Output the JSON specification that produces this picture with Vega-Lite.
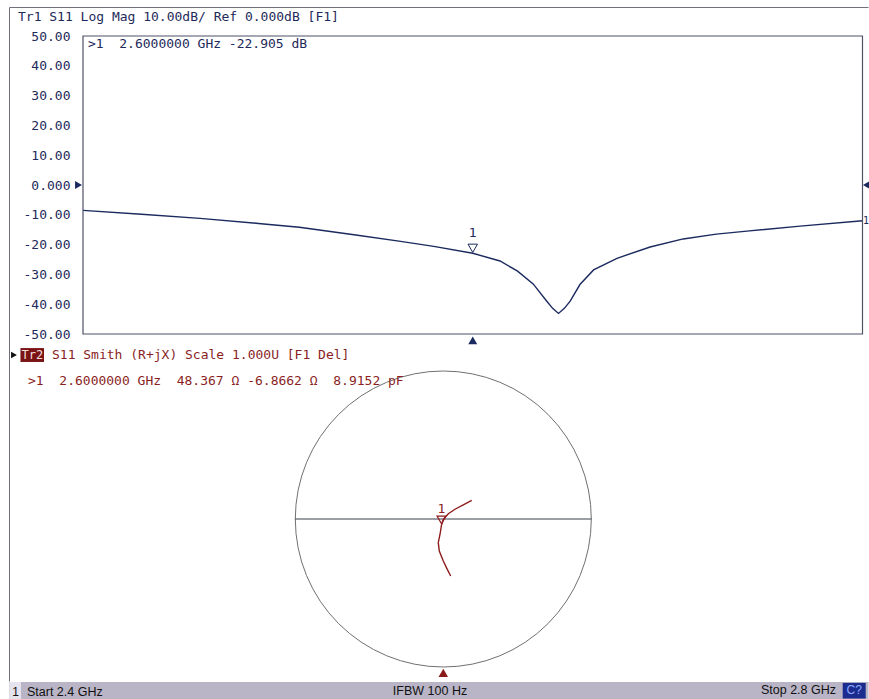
{
  "$schema": "https://vega.github.io/schema/vega-lite/v6.json",
  "padding": {"left": 9, "top": 6, "right": 0, "bottom": 0},
  "autosize": {"type": "pad"},
  "background": "white",
  "spacing": 0,
  "bounds": "flush",
  "config": {
    "view": {"stroke": null},
    "axis": {"grid": false, "domain": false, "ticks": false},
    "axisY": {"labelPadding": 13, "tickSize": 0, "labelFont": "DejaVu Sans Mono", "labelFontSize": 13, "labelColor": "#1e2a5a"}
  },
  "datasets": {
    "sweep": [{"start": 2.4, "stop": 2.8, "top": 50, "bottom": -50, "ref": 0}],
    "trace1": [
      {"f": 2.400, "db": -8.5}, {"f": 2.430, "db": -9.8}, {"f": 2.460, "db": -11.2}, {"f": 2.490, "db": -12.9},
      {"f": 2.511, "db": -14.2}, {"f": 2.540, "db": -16.8}, {"f": 2.563, "db": -18.9}, {"f": 2.580, "db": -20.6},
      {"f": 2.600, "db": -22.905}, {"f": 2.614, "db": -25.5}, {"f": 2.623, "db": -28.9}, {"f": 2.631, "db": -33.2},
      {"f": 2.638, "db": -39.0}, {"f": 2.641, "db": -41.4}, {"f": 2.644, "db": -43.1}, {"f": 2.647, "db": -41.4},
      {"f": 2.650, "db": -39.0}, {"f": 2.655, "db": -33.4}, {"f": 2.662, "db": -28.5}, {"f": 2.674, "db": -24.6},
      {"f": 2.691, "db": -20.8}, {"f": 2.708, "db": -18.1}, {"f": 2.725, "db": -16.5}, {"f": 2.742, "db": -15.4},
      {"f": 2.768, "db": -13.8}, {"f": 2.800, "db": -12.0}
    ],
    "trace2": [
      {"f": 2.40, "gx": 0.050, "gy": -0.385}, {"f": 2.44, "gx": 0.027, "gy": -0.340}, {"f": 2.48, "gx": 0.000, "gy": -0.284},
      {"f": 2.52, "gx": -0.027, "gy": -0.216}, {"f": 2.55, "gx": -0.034, "gy": -0.160}, {"f": 2.58, "gx": -0.022, "gy": -0.103},
      {"f": 2.60, "gx": -0.012, "gy": -0.040}, {"f": 2.645, "gx": 0.000, "gy": -0.002}, {"f": 2.68, "gx": 0.034, "gy": 0.036},
      {"f": 2.71, "gx": 0.079, "gy": 0.066}, {"f": 2.75, "gx": 0.135, "gy": 0.095}, {"f": 2.80, "gx": 0.192, "gy": 0.126}
    ],
    "marker": [{"id": "1", "f": 2.6, "db": -22.905, "gx": -0.012, "gy": -0.040}]
  },
  "vconcat": [
    {
      "width": 779.5,
      "height": 298,
      "layer": [
        {
          "data": {"name": "trace1"},
          "mark": {"type": "line", "color": "#1b2a5e", "strokeWidth": 1.4},
          "encoding": {
            "x": {"field": "f", "type": "quantitative", "scale": {"domain": [2.4, 2.8], "nice": false, "zero": false}, "axis": null},
            "y": {"field": "db", "type": "quantitative", "scale": {"domain": [-50, 50], "nice": false, "zero": false},
              "axis": {"values": [-50, -40, -30, -20, -10, 0, 10, 20, 30, 40, 50], "labelExpr": "datum.value === 0 ? '0.000' : (datum.value < 0 ? '-' : '') + format(abs(datum.value), '.2f')", "title": null}}
          }
        },
        {
          "data": {"name": "sweep"},
          "mark": {"type": "rule", "color": "#70707c", "strokeWidth": 1},
          "encoding": {
            "x": {"datum": 2.362284, "type": "quantitative", "scale": {"domain": [2.4, 2.8], "nice": false, "zero": false}, "axis": null},
            "y": {"datum": 59.564, "type": "quantitative", "scale": {"domain": [-50, 50], "nice": false, "zero": false},
              "axis": {"values": [-50, -40, -30, -20, -10, 0, 10, 20, 30, 40, 50], "labelExpr": "datum.value === 0 ? '0.000' : (datum.value < 0 ? '-' : '') + format(abs(datum.value), '.2f')", "title": null}},
            "y2": {"datum": -50}
          }
        },
        {
          "data": {"name": "sweep"},
          "mark": {"type": "rule", "color": "#70707c", "strokeWidth": 1},
          "encoding": {
            "x": {"datum": 2.362284, "type": "quantitative", "scale": {"domain": [2.4, 2.8], "nice": false, "zero": false}, "axis": null},
            "x2": {"datum": 2.80308},
            "y": {"datum": 59.564, "type": "quantitative", "scale": {"domain": [-50, 50], "nice": false, "zero": false},
              "axis": {"values": [-50, -40, -30, -20, -10, 0, 10, 20, 30, 40, 50], "labelExpr": "datum.value === 0 ? '0.000' : (datum.value < 0 ? '-' : '') + format(abs(datum.value), '.2f')", "title": null}}
          }
        },
        {
          "data": {"name": "sweep"},
          "mark": {"type": "rect", "fill": "transparent", "stroke": "#4d5266", "strokeWidth": 1.2},
          "encoding": {
            "x": {"field": "start", "type": "quantitative", "scale": {"domain": [2.4, 2.8], "nice": false, "zero": false}, "axis": null},
            "x2": {"field": "stop"},
            "y": {"field": "top", "type": "quantitative", "scale": {"domain": [-50, 50], "nice": false, "zero": false},
              "axis": {"values": [-50, -40, -30, -20, -10, 0, 10, 20, 30, 40, 50], "labelExpr": "datum.value === 0 ? '0.000' : (datum.value < 0 ? '-' : '') + format(abs(datum.value), '.2f')", "title": null}},
            "y2": {"field": "bottom"}
          }
        },
        {
          "data": {"name": "marker"},
          "mark": {"type": "point", "shape": "triangle-down", "filled": false, "size": 90, "stroke": "#1b2a5e", "strokeWidth": 1, "yOffset": -5, "opacity": 1},
          "encoding": {
            "x": {"field": "f", "type": "quantitative", "scale": {"domain": [2.4, 2.8], "nice": false, "zero": false}, "axis": null},
            "y": {"field": "db", "type": "quantitative", "scale": {"domain": [-50, 50], "nice": false, "zero": false},
              "axis": {"values": [-50, -40, -30, -20, -10, 0, 10, 20, 30, 40, 50], "labelExpr": "datum.value === 0 ? '0.000' : (datum.value < 0 ? '-' : '') + format(abs(datum.value), '.2f')", "title": null}}
          }
        },
        {
          "data": {"name": "marker"},
          "mark": {"type": "text", "font": "DejaVu Sans Mono", "fontSize": 13, "color": "#1e2a5a", "dy": -20, "baseline": "middle"},
          "encoding": {
            "x": {"field": "f", "type": "quantitative", "scale": {"domain": [2.4, 2.8], "nice": false, "zero": false}, "axis": null},
            "y": {"field": "db", "type": "quantitative", "scale": {"domain": [-50, 50], "nice": false, "zero": false},
              "axis": {"values": [-50, -40, -30, -20, -10, 0, 10, 20, 30, 40, 50], "labelExpr": "datum.value === 0 ? '0.000' : (datum.value < 0 ? '-' : '') + format(abs(datum.value), '.2f')", "title": null}},
            "text": {"field": "id"}
          }
        },
        {
          "data": {"name": "marker"},
          "mark": {"type": "point", "shape": "triangle-up", "filled": true, "size": 80, "color": "#1b2a5e", "opacity": 1},
          "encoding": {
            "x": {"field": "f", "type": "quantitative", "scale": {"domain": [2.4, 2.8], "nice": false, "zero": false}, "axis": null},
            "y": {"datum": -52.18, "type": "quantitative", "scale": {"domain": [-50, 50], "nice": false, "zero": false},
              "axis": {"values": [-50, -40, -30, -20, -10, 0, 10, 20, 30, 40, 50], "labelExpr": "datum.value === 0 ? '0.000' : (datum.value < 0 ? '-' : '') + format(abs(datum.value), '.2f')", "title": null}}
          }
        },
        {
          "data": {"name": "sweep"},
          "mark": {"type": "point", "shape": "triangle-right", "filled": true, "size": 64, "color": "#1b2a5e", "opacity": 1},
          "encoding": {
            "x": {"datum": 2.39769, "type": "quantitative", "scale": {"domain": [2.4, 2.8], "nice": false, "zero": false}, "axis": null},
            "y": {"field": "ref", "type": "quantitative", "scale": {"domain": [-50, 50], "nice": false, "zero": false},
              "axis": {"values": [-50, -40, -30, -20, -10, 0, 10, 20, 30, 40, 50], "labelExpr": "datum.value === 0 ? '0.000' : (datum.value < 0 ? '-' : '') + format(abs(datum.value), '.2f')", "title": null}}
          }
        },
        {
          "data": {"name": "sweep"},
          "mark": {"type": "point", "shape": "triangle-left", "filled": true, "size": 50, "color": "#1b2a5e", "opacity": 1},
          "encoding": {
            "x": {"datum": 2.8018, "type": "quantitative", "scale": {"domain": [2.4, 2.8], "nice": false, "zero": false}, "axis": null},
            "y": {"field": "ref", "type": "quantitative", "scale": {"domain": [-50, 50], "nice": false, "zero": false},
              "axis": {"values": [-50, -40, -30, -20, -10, 0, 10, 20, 30, 40, 50], "labelExpr": "datum.value === 0 ? '0.000' : (datum.value < 0 ? '-' : '') + format(abs(datum.value), '.2f')", "title": null}}
          }
        },
        {
          "data": {"name": "sweep"},
          "mark": {"type": "text", "font": "DejaVu Sans Mono", "fontSize": 10, "color": "#1e2a5a", "align": "left", "baseline": "middle", "dx": 0.5},
          "encoding": {
            "x": {"field": "stop", "type": "quantitative", "scale": {"domain": [2.4, 2.8], "nice": false, "zero": false}, "axis": null},
            "y": {"datum": -12.0, "type": "quantitative", "scale": {"domain": [-50, 50], "nice": false, "zero": false},
              "axis": {"values": [-50, -40, -30, -20, -10, 0, 10, 20, 30, 40, 50], "labelExpr": "datum.value === 0 ? '0.000' : (datum.value < 0 ? '-' : '') + format(abs(datum.value), '.2f')", "title": null}},
            "text": {"value": "1"}
          }
        },
        {
          "data": {"name": "sweep"},
          "mark": {"type": "text", "font": "DejaVu Sans Mono", "fontSize": 13, "color": "#1e2a5a", "align": "left", "baseline": "middle"},
          "encoding": {
            "x": {"datum": 2.40256, "type": "quantitative", "scale": {"domain": [2.4, 2.8], "nice": false, "zero": false}, "axis": null},
            "y": {"datum": 47.148, "type": "quantitative", "scale": {"domain": [-50, 50], "nice": false, "zero": false},
              "axis": {"values": [-50, -40, -30, -20, -10, 0, 10, 20, 30, 40, 50], "labelExpr": "datum.value === 0 ? '0.000' : (datum.value < 0 ? '-' : '') + format(abs(datum.value), '.2f')", "title": null}},
            "text": {"value": ">1\u00a0\u00a02.6000000 GHz -22.905 dB"}
          }
        },
        {
          "data": {"name": "sweep"},
          "mark": {"type": "text", "font": "DejaVu Sans Mono", "fontSize": 13, "color": "#1e2a5a", "align": "left", "baseline": "middle"},
          "encoding": {
            "x": {"datum": 2.36664, "type": "quantitative", "scale": {"domain": [2.4, 2.8], "nice": false, "zero": false}, "axis": null},
            "y": {"datum": 56.376, "type": "quantitative", "scale": {"domain": [-50, 50], "nice": false, "zero": false},
              "axis": {"values": [-50, -40, -30, -20, -10, 0, 10, 20, 30, 40, 50], "labelExpr": "datum.value === 0 ? '0.000' : (datum.value < 0 ? '-' : '') + format(abs(datum.value), '.2f')", "title": null}},
            "text": {"value": "Tr1 S11 Log Mag 10.00dB/ Ref 0.000dB [F1]"}
          }
        }
      ]
    },
    {
      "width": 779.5,
      "height": 347.5,
      "layer": [
        {
          "data": {"name": "sweep"},
          "mark": {"type": "rule", "color": "#70707c", "strokeWidth": 1},
          "encoding": {
            "x": {"datum": -2.93108, "type": "quantitative", "scale": {"domain": [-2.43446, 2.83243], "nice": false, "zero": false}, "axis": null},
            "y": {"datum": 1.25, "type": "quantitative", "scale": {"domain": [-1.09797, 1.25], "nice": false, "zero": false}, "axis": null},
            "y2": {"datum": -1.09797}
          }
        },
        {
          "data": {"name": "sweep"},
          "mark": {"type": "point", "shape": "circle", "filled": false, "size": 87616, "stroke": "#707070", "strokeWidth": 1, "opacity": 1},
          "encoding": {
            "x": {"datum": 0, "type": "quantitative", "scale": {"domain": [-2.43446, 2.83243], "nice": false, "zero": false}, "axis": null},
            "y": {"datum": 0, "type": "quantitative", "scale": {"domain": [-1.09797, 1.25], "nice": false, "zero": false}, "axis": null}
          }
        },
        {
          "data": {"name": "sweep"},
          "mark": {"type": "rule", "color": "#3a3f4f", "strokeWidth": 1.1},
          "encoding": {
            "x": {"datum": -1, "type": "quantitative", "scale": {"domain": [-2.43446, 2.83243], "nice": false, "zero": false}, "axis": null},
            "x2": {"datum": 1},
            "y": {"datum": 0, "type": "quantitative", "scale": {"domain": [-1.09797, 1.25], "nice": false, "zero": false}, "axis": null}
          }
        },
        {
          "data": {"name": "trace2"},
          "mark": {"type": "line", "color": "#8e1c1c", "strokeWidth": 1.4},
          "encoding": {
            "x": {"field": "gx", "type": "quantitative", "scale": {"domain": [-2.43446, 2.83243], "nice": false, "zero": false}, "axis": null},
            "y": {"field": "gy", "type": "quantitative", "scale": {"domain": [-1.09797, 1.25], "nice": false, "zero": false}, "axis": null},
            "order": {"field": "f", "type": "quantitative"}
          }
        },
        {
          "data": {"name": "marker"},
          "mark": {"type": "point", "shape": "triangle-down", "filled": false, "size": 80, "stroke": "#8e1c1c", "strokeWidth": 1.2, "yOffset": -5, "opacity": 1},
          "encoding": {
            "x": {"field": "gx", "type": "quantitative", "scale": {"domain": [-2.43446, 2.83243], "nice": false, "zero": false}, "axis": null},
            "y": {"field": "gy", "type": "quantitative", "scale": {"domain": [-1.09797, 1.25], "nice": false, "zero": false}, "axis": null}
          }
        },
        {
          "data": {"name": "marker"},
          "mark": {"type": "text", "font": "DejaVu Sans Mono", "fontSize": 13, "color": "#8a1f1f", "dy": -16, "baseline": "middle"},
          "encoding": {
            "x": {"field": "gx", "type": "quantitative", "scale": {"domain": [-2.43446, 2.83243], "nice": false, "zero": false}, "axis": null},
            "y": {"field": "gy", "type": "quantitative", "scale": {"domain": [-1.09797, 1.25], "nice": false, "zero": false}, "axis": null},
            "text": {"field": "id"}
          }
        },
        {
          "data": {"name": "sweep"},
          "mark": {"type": "point", "shape": "triangle-up", "filled": true, "size": 90, "color": "#8b1a1a", "opacity": 1},
          "encoding": {
            "x": {"datum": 0, "type": "quantitative", "scale": {"domain": [-2.43446, 2.83243], "nice": false, "zero": false}, "axis": null},
            "y": {"datum": -1.04, "type": "quantitative", "scale": {"domain": [-1.09797, 1.25], "nice": false, "zero": false}, "axis": null}
          }
        },
        {
          "data": {"name": "sweep"},
          "mark": {"type": "point", "shape": "triangle-right", "filled": true, "size": 45, "color": "#111111", "opacity": 1},
          "encoding": {
            "x": {"datum": -2.9007, "type": "quantitative", "scale": {"domain": [-2.43446, 2.83243], "nice": false, "zero": false}, "axis": null},
            "y": {"datum": 1.108, "type": "quantitative", "scale": {"domain": [-1.09797, 1.25], "nice": false, "zero": false}, "axis": null}
          }
        },
        {
          "data": {"name": "sweep"},
          "mark": {"type": "rect", "color": "#7a1414", "opacity": 1},
          "encoding": {
            "x": {"datum": -2.857, "type": "quantitative", "scale": {"domain": [-2.43446, 2.83243], "nice": false, "zero": false}, "axis": null},
            "x2": {"datum": -2.6978},
            "y": {"datum": 1.155, "type": "quantitative", "scale": {"domain": [-1.09797, 1.25], "nice": false, "zero": false}, "axis": null},
            "y2": {"datum": 1.061}
          }
        },
        {
          "data": {"name": "sweep"},
          "mark": {"type": "text", "font": "DejaVu Sans Mono", "fontSize": 12, "color": "#f3dede", "align": "center", "baseline": "middle"},
          "encoding": {
            "x": {"datum": -2.777, "type": "quantitative", "scale": {"domain": [-2.43446, 2.83243], "nice": false, "zero": false}, "axis": null},
            "y": {"datum": 1.108, "type": "quantitative", "scale": {"domain": [-1.09797, 1.25], "nice": false, "zero": false}, "axis": null},
            "text": {"value": "Tr2"}
          }
        },
        {
          "data": {"name": "sweep"},
          "mark": {"type": "text", "font": "DejaVu Sans Mono", "fontSize": 13, "color": "#8a1f1f", "align": "left", "baseline": "middle"},
          "encoding": {
            "x": {"datum": -2.644, "type": "quantitative", "scale": {"domain": [-2.43446, 2.83243], "nice": false, "zero": false}, "axis": null},
            "y": {"datum": 1.108, "type": "quantitative", "scale": {"domain": [-1.09797, 1.25], "nice": false, "zero": false}, "axis": null},
            "text": {"value": "S11 Smith (R+jX) Scale 1.000U [F1 Del]"}
          }
        },
        {
          "data": {"name": "sweep"},
          "mark": {"type": "text", "font": "DejaVu Sans Mono", "fontSize": 13, "color": "#8a1f1f", "align": "left", "baseline": "middle"},
          "encoding": {
            "x": {"datum": -2.806, "type": "quantitative", "scale": {"domain": [-2.43446, 2.83243], "nice": false, "zero": false}, "axis": null},
            "y": {"datum": 0.932, "type": "quantitative", "scale": {"domain": [-1.09797, 1.25], "nice": false, "zero": false}, "axis": null},
            "text": {"value": ">1\u00a0\u00a02.6000000 GHz\u00a0\u00a048.367 Ω -6.8662 Ω\u00a0\u00a08.9152 pF"}
          }
        }
      ]
    },
    {
      "width": 779.5,
      "height": 18,
      "layer": [
        {
          "data": {"name": "sweep"},
          "mark": {"type": "rect", "color": "#b9b5c6", "opacity": 1},
          "encoding": {
            "x": {"datum": -0.09429, "type": "quantitative", "scale": {"domain": [0, 1], "nice": false, "zero": false}, "axis": null},
            "x2": {"datum": 1.0077},
            "y": {"datum": 0, "type": "quantitative", "scale": {"domain": [0, 1], "nice": false, "zero": false}, "axis": null},
            "y2": {"datum": 1}
          }
        },
        {
          "data": {"name": "sweep"},
          "mark": {"type": "rect", "color": "#e4e2ec", "opacity": 1},
          "encoding": {
            "x": {"datum": -0.09365, "type": "quantitative", "scale": {"domain": [0, 1], "nice": false, "zero": false}, "axis": null},
            "x2": {"datum": -0.07954},
            "y": {"datum": 0, "type": "quantitative", "scale": {"domain": [0, 1], "nice": false, "zero": false}, "axis": null},
            "y2": {"datum": 1}
          }
        },
        {
          "data": {"name": "sweep"},
          "mark": {"type": "text", "font": "Liberation Sans", "fontSize": 12, "color": "#111111", "align": "center", "baseline": "middle"},
          "encoding": {
            "x": {"datum": -0.08659, "type": "quantitative", "scale": {"domain": [0, 1], "nice": false, "zero": false}, "axis": null},
            "y": {"datum": 0.45, "type": "quantitative", "scale": {"domain": [0, 1], "nice": false, "zero": false}, "axis": null},
            "text": {"value": "1"}
          }
        },
        {
          "data": {"name": "sweep"},
          "mark": {"type": "text", "font": "Liberation Sans", "fontSize": 12.5, "color": "#111111", "align": "left", "baseline": "middle"},
          "encoding": {
            "x": {"datum": -0.07184, "type": "quantitative", "scale": {"domain": [0, 1], "nice": false, "zero": false}, "axis": null},
            "y": {"datum": 0.45, "type": "quantitative", "scale": {"domain": [0, 1], "nice": false, "zero": false}, "axis": null},
            "text": {"value": "Start 2.4 GHz"}
          }
        },
        {
          "data": {"name": "sweep"},
          "mark": {"type": "text", "font": "Liberation Sans", "fontSize": 12.5, "color": "#111111", "align": "center", "baseline": "middle"},
          "encoding": {
            "x": {"datum": 0.44516, "type": "quantitative", "scale": {"domain": [0, 1], "nice": false, "zero": false}, "axis": null},
            "y": {"datum": 0.5, "type": "quantitative", "scale": {"domain": [0, 1], "nice": false, "zero": false}, "axis": null},
            "text": {"value": "IFBW 100 Hz"}
          }
        },
        {
          "data": {"name": "sweep"},
          "mark": {"type": "text", "font": "Liberation Sans", "fontSize": 12.5, "color": "#111111", "align": "right", "baseline": "middle"},
          "encoding": {
            "x": {"datum": 0.966, "type": "quantitative", "scale": {"domain": [0, 1], "nice": false, "zero": false}, "axis": null},
            "y": {"datum": 0.55, "type": "quantitative", "scale": {"domain": [0, 1], "nice": false, "zero": false}, "axis": null},
            "text": {"value": "Stop 2.8 GHz"}
          }
        },
        {
          "data": {"name": "sweep"},
          "mark": {"type": "rect", "color": "#1c2c8e", "opacity": 1},
          "encoding": {
            "x": {"datum": 0.9746, "type": "quantitative", "scale": {"domain": [0, 1], "nice": false, "zero": false}, "axis": null},
            "x2": {"datum": 1.00411},
            "y": {"datum": 0.08, "type": "quantitative", "scale": {"domain": [0, 1], "nice": false, "zero": false}, "axis": null},
            "y2": {"datum": 0.95}
          }
        },
        {
          "data": {"name": "sweep"},
          "mark": {"type": "text", "font": "Liberation Sans", "fontSize": 12, "color": "#8fa8ff", "align": "center", "baseline": "middle"},
          "encoding": {
            "x": {"datum": 0.98935, "type": "quantitative", "scale": {"domain": [0, 1], "nice": false, "zero": false}, "axis": null},
            "y": {"datum": 0.55, "type": "quantitative", "scale": {"domain": [0, 1], "nice": false, "zero": false}, "axis": null},
            "text": {"value": "C?"}
          }
        }
      ]
    }
  ]
}
